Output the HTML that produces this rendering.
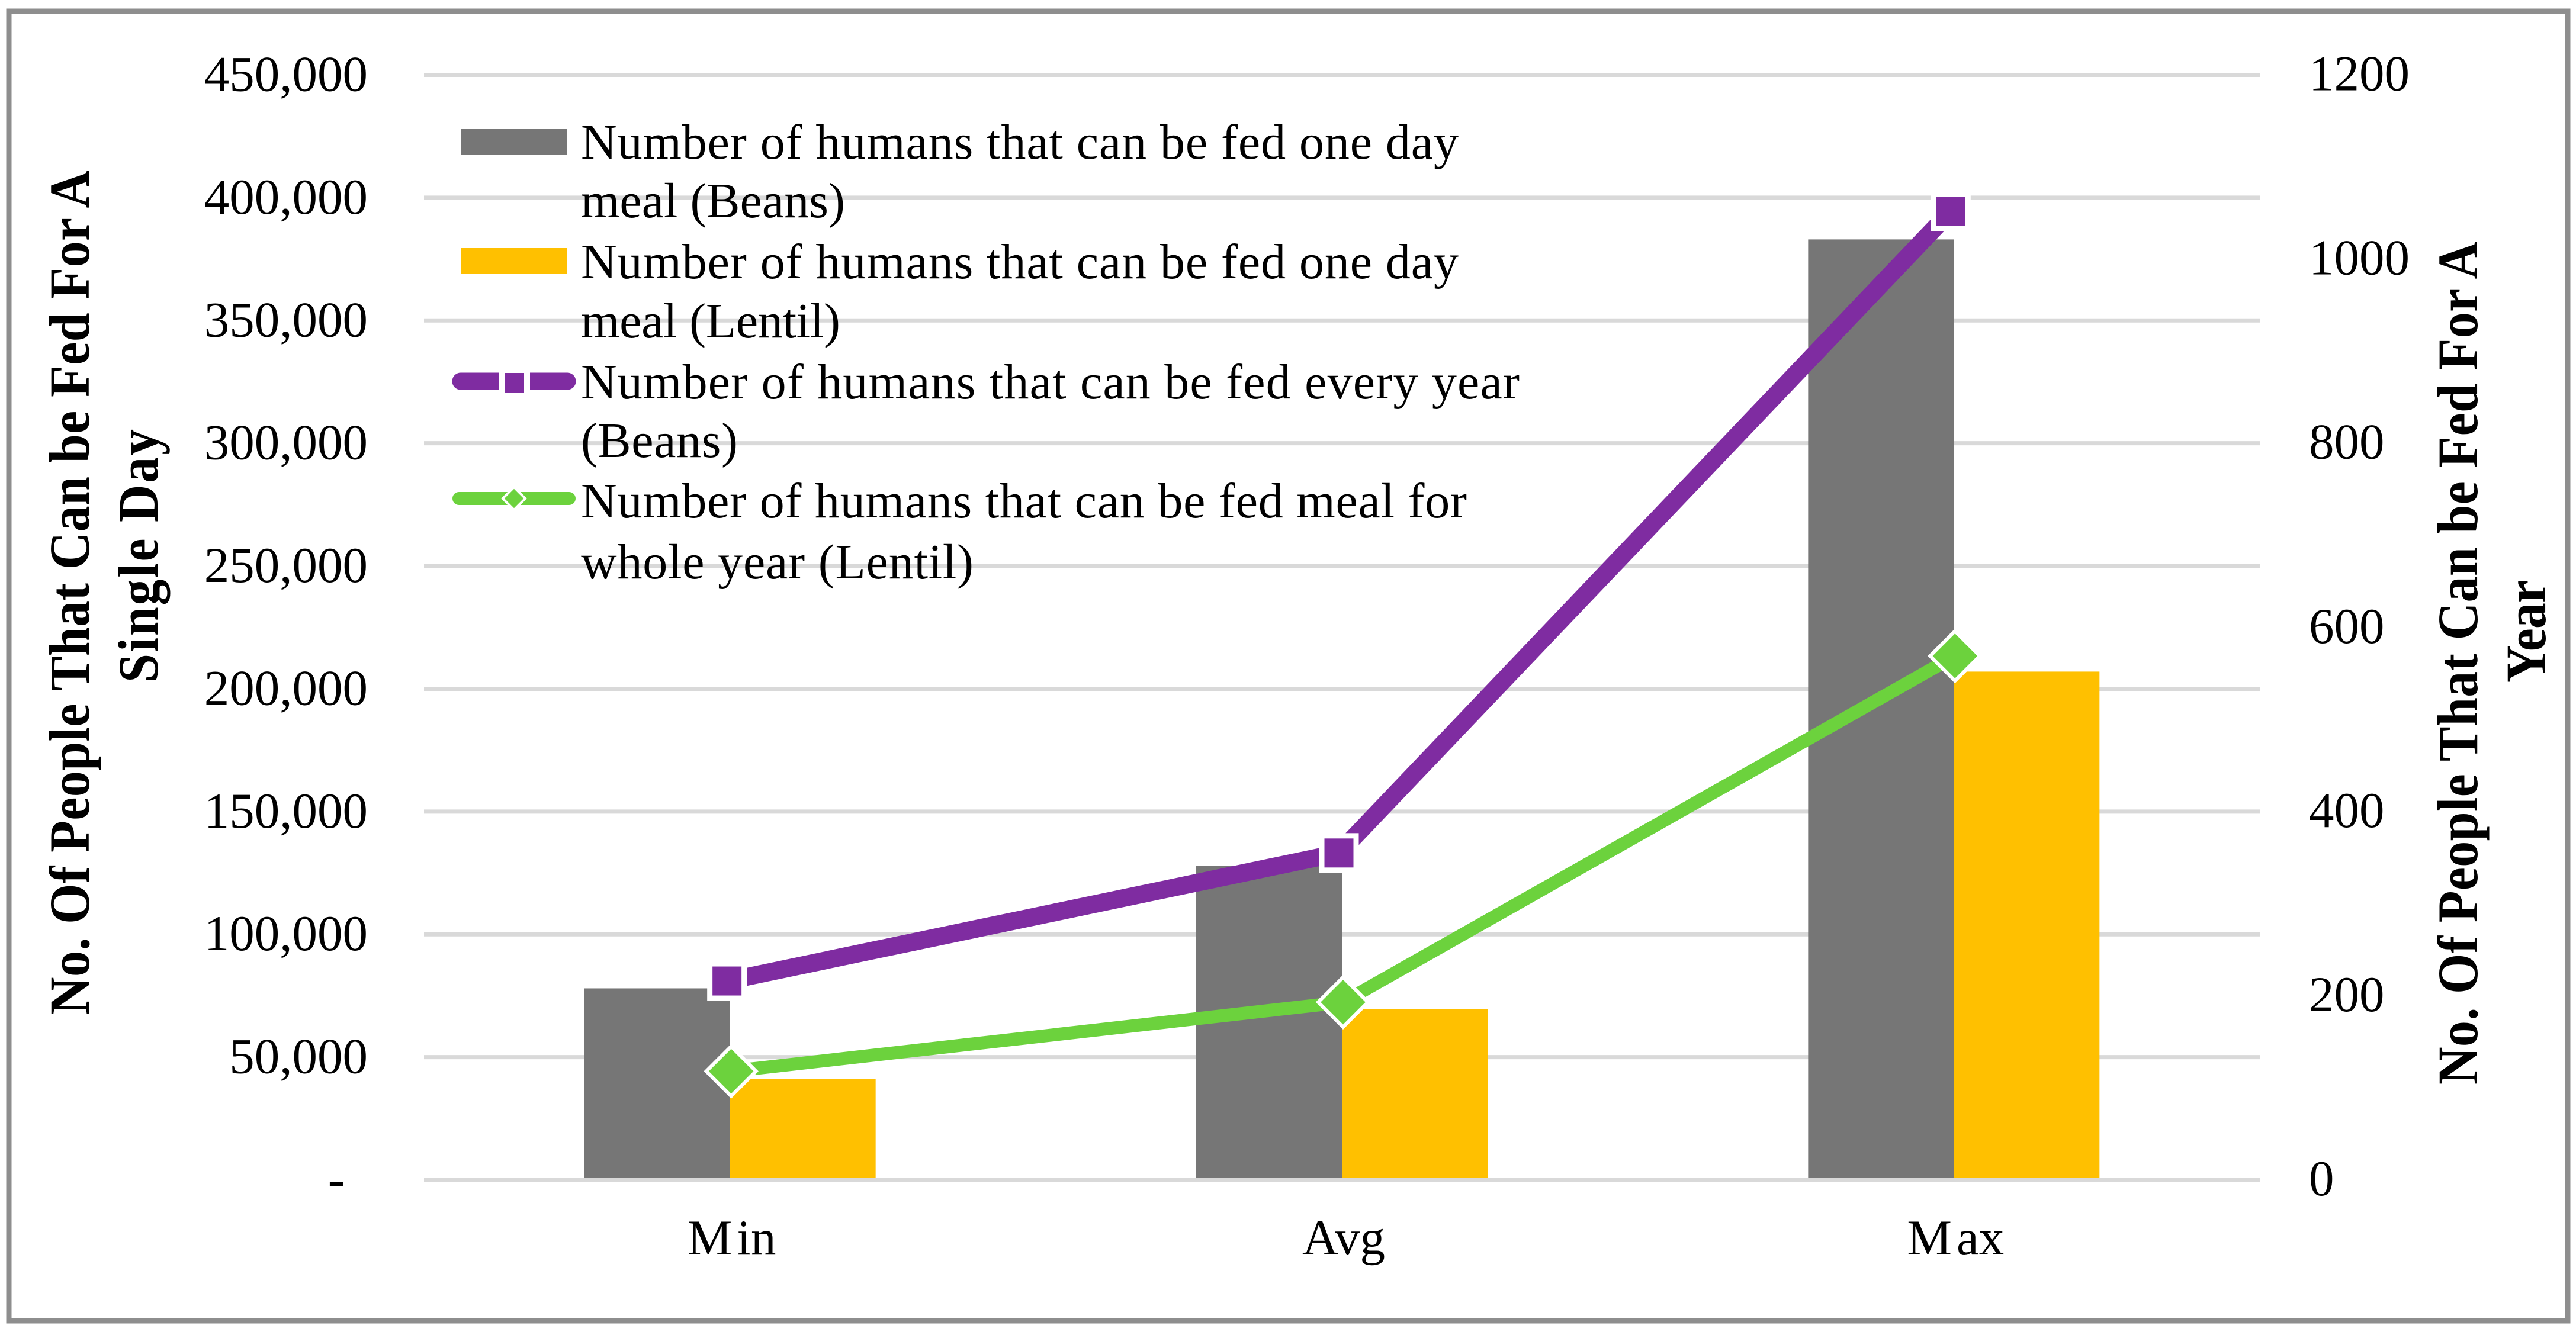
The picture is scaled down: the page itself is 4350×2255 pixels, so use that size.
<!DOCTYPE html>
<html lang="en">
<head>
<meta charset="utf-8">
<title>Number of humans that can be fed</title>
<style>
  html, body { margin: 0; padding: 0; background: #ffffff; }
  svg { display: block; }
  text { font-family: "Liberation Serif", "Times New Roman", serif; fill: #000; }
  .tick { font-size: 85px; }
  .legend { font-size: 84px; }
  .title { font-size: 88px; font-weight: bold; }
</style>
</head>
<body>
<svg id="chart" xmlns="http://www.w3.org/2000/svg" width="4350" height="2255" viewBox="0 0 4350 2255">
  <rect x="15" y="19" width="4321" height="2212" fill="#ffffff" stroke="#8e8e8e" stroke-width="9"/>
  <g id="grid"></g>
  <g id="bars"></g>
  <g id="axis"></g>
  <g id="lines"></g>
  <g id="markers"></g>
  <g id="ticks"></g>

  <text class="title" transform="translate(150,1714) rotate(-90) scale(1,1.09)" textLength="1426" lengthAdjust="spacing">No. Of People That Can be Fed For A</text>
  <text class="title" transform="translate(266,1153) rotate(-90) scale(1,1.09)" textLength="428" lengthAdjust="spacing">Single Day</text>
  <text class="title" transform="translate(4183,1832) rotate(-90) scale(1,1.09)" textLength="1424" lengthAdjust="spacing">No. Of People That Can be Fed For A</text>
  <text class="title" transform="translate(4298,1153) rotate(-90) scale(1,1.09)" textLength="173" lengthAdjust="spacing">Year</text>

  <g>
    <g>
      <rect x="778" y="218" width="180" height="43" fill="#767676"/>
      <text class="legend" x="981" y="268" textLength="1482" lengthAdjust="spacing">Number of humans that can be fed one day</text>
      <text class="legend" x="981" y="367" textLength="446" lengthAdjust="spacing">meal (Beans)</text>
    </g>
    <g>
      <rect x="778" y="419" width="180" height="44" fill="#ffc000"/>
      <text class="legend" x="981" y="470" textLength="1482" lengthAdjust="spacing">Number of humans that can be fed one day</text>
      <text class="legend" x="981" y="570" textLength="438" lengthAdjust="spacing">meal (Lentil)</text>
    </g>
    <g>
      <line x1="778" y1="644" x2="958" y2="644" stroke="#7f2ca1" stroke-width="29" stroke-linecap="round"/>
      <rect x="847" y="625" width="43" height="44" fill="#7f2ca1" stroke="#ffffff" stroke-width="10"/>
      <text class="legend" x="981" y="673" textLength="1585" lengthAdjust="spacing">Number of humans that can be fed every year</text>
      <text class="legend" x="981" y="772" textLength="265" lengthAdjust="spacing">(Beans)</text>
    </g>
    <g>
      <line x1="775" y1="842" x2="961" y2="842" stroke="#6cd23d" stroke-width="22" stroke-linecap="round"/>
      <polygon points="868,823 887,842 868,861 849,842" fill="#6cd23d" stroke="#ffffff" stroke-width="4"/>
      <text class="legend" x="981" y="874" textLength="1496" lengthAdjust="spacing">Number of humans that can be fed meal for</text>
      <text class="legend" x="981" y="977" textLength="663" lengthAdjust="spacing">whole year (Lentil)</text>
    </g>
  </g>
</svg>
<script>
const categories = ['Min', 'Avg', 'Max'];
const beansDay = [78000, 128000, 383000];
const lentilDay = [41000, 69500, 207000];
const beansYear = [216, 355, 1052];
const lentilYear = [118, 193, 569];
const leftTicks = [0, 50000, 100000, 150000, 200000, 250000, 300000, 350000, 400000, 450000];
const leftTickLabels = ['-', '50,000', '100,000', '150,000', '200,000', '250,000', '300,000', '350,000', '400,000', '450,000'];
const rightTicks = [0, 200, 400, 600, 800, 1000, 1200];
const rightTickLabels = ['0', '200', '400', '600', '800', '1000', '1200'];

const NS = 'http://www.w3.org/2000/svg';
const plotLeft = 716, plotRight = 3816, plotTop = 126.5, plotBottom = 1993;
const leftMax = 450000, rightMax = 1200;
const barWidth = 246;

function yLeft(v) { return plotBottom - (v / leftMax) * (plotBottom - plotTop); }
function yRight(v) { return plotBottom - (v / rightMax) * (plotBottom - plotTop); }
function xCat(i) { return plotLeft + (i + 0.5) * ((plotRight - plotLeft) / categories.length); }
function make(tag, parentId) {
  const el = document.createElementNS(NS, tag);
  document.getElementById(parentId).appendChild(el);
  return el;
}
function setAll(el, attrs) {
  Object.keys(attrs).forEach(function (k) { el.setAttribute(k, attrs[k]); });
}

leftTicks.forEach(function (t, i) {
  const isBase = t === 0;
  const line = make('line', isBase ? 'axis' : 'grid');
  
  
  setAll(line, { x1: plotLeft, x2: plotRight, y1: yLeft(t), y2: yLeft(t), stroke: '#d9d9d9', 'stroke-width': 7 });

  const label = make('text', 'ticks');
  
  
  setAll(label, { class: 'tick', x: isBase ? 582 : 621, y: yLeft(t) + 27, 'text-anchor': 'end' });
  label.textContent = leftTickLabels[i];
});

rightTicks.forEach(function (t, i) {
  const label = make('text', 'ticks');
  
  
  setAll(label, { class: 'tick', x: 3899, y: yRight(t) + 26 });
  label.textContent = rightTickLabels[i];
});

categories.forEach(function (c, i) {
  const cx = xCat(i);

  const beansBar = make('rect', 'bars');
  
  
  setAll(beansBar, { x: cx - barWidth, y: yLeft(beansDay[i]), width: barWidth, height: plotBottom - yLeft(beansDay[i]), fill: '#767676' });

  const lentilBar = make('rect', 'bars');
  
  
  setAll(lentilBar, { x: cx, y: yLeft(lentilDay[i]), width: barWidth, height: plotBottom - yLeft(lentilDay[i]), fill: '#ffc000' });

  const label = make('text', 'ticks');
  
  
  setAll(label, { class: 'tick', x: cx + 3, y: 2119, 'text-anchor': 'middle' });
  if (c.charAt(0) === 'M') {
    const head = document.createElementNS(NS, 'tspan');
    head.textContent = c.charAt(0);
    const tail = document.createElementNS(NS, 'tspan');
    tail.setAttribute('dx', '8');
    tail.textContent = c.slice(1);
    label.appendChild(head);
    label.appendChild(tail);
  } else {
    label.textContent = c;
  }
});

const purpleOffset = -5, greenOffset = 2;

const purpleLine = make('polyline', 'lines');


setAll(purpleLine, {
  points: beansYear.map(function (v, i) { return (xCat(i) + purpleOffset) + ',' + yRight(v); }).join(' '),
  fill: 'none', stroke: '#7f2ca1', 'stroke-width': 30, 'stroke-linejoin': 'round'
});

const greenLine = make('polyline', 'lines');


setAll(greenLine, {
  points: lentilYear.map(function (v, i) { return (xCat(i) + greenOffset) + ',' + yRight(v); }).join(' '),
  fill: 'none', stroke: '#6cd23d', 'stroke-width': 22, 'stroke-linejoin': 'round'
});

beansYear.forEach(function (v, i) {
  const px = xCat(i) + purpleOffset, py = yRight(v);
  const sq = make('rect', 'markers');
  
  
  setAll(sq, { x: px - 29, y: py - 29, width: 58, height: 58, fill: '#7f2ca1', stroke: '#ffffff', 'stroke-width': 9 });
});

lentilYear.forEach(function (v, i) {
  const px = xCat(i) + greenOffset, py = yRight(v);
  const d = make('polygon', 'markers');
  
  
  setAll(d, {
    points: px + ',' + (py - 42) + ' ' + (px + 42) + ',' + py + ' ' + px + ',' + (py + 42) + ' ' + (px - 42) + ',' + py,
    fill: '#6cd23d', stroke: '#ffffff', 'stroke-width': 6
  });
});
</script>
</body>
</html>
